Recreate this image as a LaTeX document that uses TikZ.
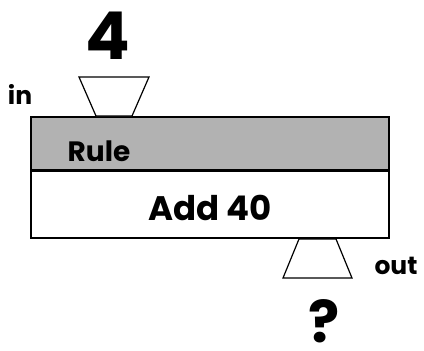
\documentclass[tikz,border=0pt]{standalone}
\usepackage{fontspec}
\setmainfont{Poppins}
\tikzset{
  lbl/.style={inner sep=0pt, font=\bfseries},
  boxline/.style={draw=black, line width=1.6pt},
  funnel/.style={draw=black, line width=1.2pt, fill=white}
}
\begin{document}
\begin{tikzpicture}[x=1pt,y=-1pt]
\useasboundingbox (0,0) rectangle (424,351);
% rule box
\draw[boxline, fill=black!30] (31,117) rectangle (389,170);
\draw[boxline, fill=white] (31,171) rectangle (389,238);
% funnels
\draw[funnel] (79,77) -- (149,77) -- (132,116) -- (96,116) -- cycle;
\draw[funnel] (299,239) -- (336,239) -- (352,278) -- (283,278) -- cycle;
% labels
\node[lbl, font=\bfseries\fontsize{66}{66}\selectfont] (four) at (108,36) {4};
\node[lbl, font=\bfseries\fontsize{25}{25}\selectfont] (in) at (20,94) {in};
\node[lbl, font=\bfseries\fontsize{28}{28}\selectfont] (rule) at (99,151) {Rule};
\node[lbl, font=\bfseries\fontsize{34}{34}\selectfont] (add) at (210,208) {Add 40};
\node[lbl, font=\bfseries\fontsize{25}{25}\selectfont] (out) at (396,266) {out};
\node[lbl, font=\bfseries\fontsize{58}{58}\selectfont] (q) at (324,321) {?};
\end{tikzpicture}
\end{document}
